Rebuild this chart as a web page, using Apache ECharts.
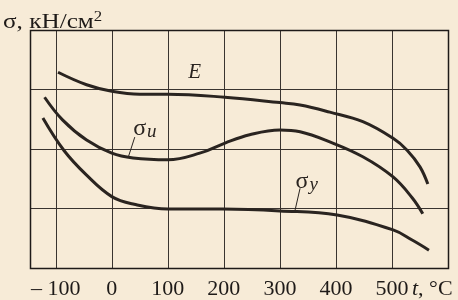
<!DOCTYPE html>
<html><head><meta charset="utf-8">
<script src="https://cdn.jsdelivr.net/npm/echarts@6/dist/echarts.min.js"></script>
<style>html,body{margin:0;padding:0;background:#f7ebd7;}#c{width:458px;height:300px;}</style>
</head><body><div id="c"></div>
<script>
// temperature ticks (°C)
const xTicks = [-100, 0, 100, 200, 300, 400, 500];
const xTickLabels = ['– 100', '0', '100', '200', '300', '400', '500'];
// curve E
const eX = [-96, -45, 0, 50, 100, 202, 300, 336, 389, 448, 502, 527, 550, 564];
const eY = [3.29, 3.08, 2.97, 2.92, 2.92, 2.87, 2.78, 2.74, 2.62, 2.46, 2.18, 1.98, 1.70, 1.41];
// curve sigma_u
const uX = [-120, -88, -45, 0, 38, 100, 157, 202, 246, 300, 336, 389, 448, 502, 536, 555];
const uY = [2.87, 2.49, 2.15, 1.93, 1.85, 1.82, 1.93, 2.10, 2.24, 2.32, 2.29, 2.12, 1.87, 1.53, 1.18, 0.91];
// curve sigma_y
const yX = [-123, -85, -45, 0, 40, 100, 198, 300, 402, 502, 536, 566];
const yY = [2.52, 1.97, 1.56, 1.20, 1.07, 0.99, 0.99, 0.96, 0.89, 0.64, 0.47, 0.30];

const ink = '#2a2420';
const zip = (a, b) => a.map((v, i) => [v, b[i]]);
const chart = echarts.init(document.getElementById('c'), null, {renderer: 'canvas'});
const serif = '"Liberation Serif","DejaVu Serif",serif';
const curve = (name, xs, ys, extra) => Object.assign({
  name, type: 'line', data: zip(xs, ys), smooth: 0.4, showSymbol: false,
  lineStyle: {color: ink, width: 3}, z: 5, silent: true
}, extra || {});
const sigLabel = sub => ({show: true, formatter: '{s|σ}{b|' + sub + '}', color: ink,
  rich: {s: {fontFamily: serif, fontSize: 24, color: ink},
         b: {fontFamily: serif, fontStyle: 'italic', fontSize: 19, color: ink, padding: [7, 0, 0, 1]}}});

chart.setOption({
  backgroundColor: '#f7ebd7',
  animation: false,
  grid: {left: 30, right: 10, top: 30, bottom: 32, show: false},
  xAxis: {
    type: 'value', min: -146, max: 600,
    axisLine: {show: false}, axisTick: {show: false}, splitLine: {show: false},
    axisLabel: {
      customValues: xTicks,
      formatter: v => xTickLabels[xTicks.indexOf(v)],
      fontFamily: serif, fontSize: 22, color: '#1e1a18', margin: 10
    }
  },
  yAxis: {
    type: 'value', min: 0, max: 4, interval: 1,
    axisLine: {show: false}, axisTick: {show: false}, axisLabel: {show: false},
    splitLine: {show: true, lineStyle: {color: '#3a3430', width: 1}}
  },
  series: [
    curve('grid', [], [], {
      lineStyle: {width: 0},
      markLine: {
        silent: true, symbol: 'none', label: {show: false},
        lineStyle: {color: '#3a3430', width: 1, type: 'solid'},
        data: xTicks.map(v => ({xAxis: v}))
      }
    }),
    curve('E', eX, eY, {
      markPoint: {symbolSize: 0, data: [{coord: [148, 3.29], value: 'E'}],
        label: {show: true, formatter: 'E', fontFamily: serif, fontStyle: 'italic', fontSize: 21, color: ink}}
    }),
    curve('σu', uX, uY, {
      markLine: {silent: true, symbol: 'none', label: {show: false},
        lineStyle: {color: ink, width: 1, type: 'solid'},
        data: [[{coord: [41, 2.20]}, {coord: [30, 1.88]}]]},
      markPoint: {symbolSize: 0, data: [{coord: [59, 2.34]}], label: sigLabel('u')}
    }),
    curve('σy', yX, yY, {
      markLine: {silent: true, symbol: 'none', label: {show: false},
        lineStyle: {color: ink, width: 1, type: 'solid'},
        data: [[{coord: [336, 1.34]}, {coord: [327, 0.97]}]]},
      markPoint: {symbolSize: 0, data: [{coord: [348, 1.45]}], label: sigLabel('y')}
    })
  ],
  graphic: [
    {type: 'rect', shape: {x: 30.5, y: 30.5, width: 418, height: 238},
     style: {fill: 'none', stroke: '#1e1a18', lineWidth: 1.5}, z: 10, silent: true},
    {type: 'text', x: 3, y: 10, scaleX: 1.2, z: 10,
     style: {text: '{a|σ, кН/см}{s|2}', rich: {
       a: {fontFamily: serif, fontSize: 21, fill: '#1e1a18'},
       s: {fontFamily: serif, fontSize: 14, fill: '#1e1a18', padding: [0, 0, 10, 0]}}}},
    {type: 'text', x: 412, y: 278, z: 10,
     style: {text: '{i|t}{a|, °C}', rich: {
       i: {fontFamily: serif, fontStyle: 'italic', fontSize: 22, fill: '#1e1a18'},
       a: {fontFamily: serif, fontSize: 22, fill: '#1e1a18'}}}}
  ]
});
</script></body></html>
